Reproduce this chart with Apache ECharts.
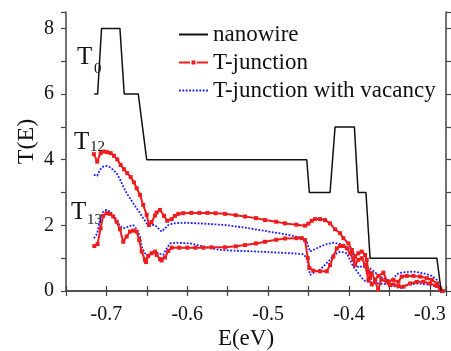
<!DOCTYPE html>
<html><head><meta charset="utf-8">
<script src="https://cdn.jsdelivr.net/npm/echarts@6/dist/echarts.min.js"></script>
<style>html,body{margin:0;padding:0;background:#fff}#c{width:451px;height:351px}</style>
</head><body><div id="c"></div>
<script>
const seriesNames = ['nanowire', 'T-junction', 'T-junction with vacancy'];
const nanowire = [[-0.7151,6],[-0.7109,6],[-0.7060,8],[-0.6833,8],[-0.6780,6],[-0.6606,6],[-0.6502,4],[-0.4522,4],[-0.4490,3],[-0.4234,3],[-0.4172,5],[-0.3933,5],[-0.3887,3],[-0.3790,3],[-0.3739,1],[-0.2913,1],[-0.2860,0]];
const tjunctionT12 = [[-0.7155,4.17],[-0.7114,3.94],[-0.7072,4.20],[-0.7031,4.25],[-0.6990,4.23],[-0.6948,4.20],[-0.6907,4.12],[-0.6866,4.01],[-0.6824,3.84],[-0.6783,3.71],[-0.6743,3.59],[-0.6700,3.47],[-0.6660,3.31],[-0.6626,3.13],[-0.6585,2.93],[-0.6545,2.62],[-0.6502,2.32],[-0.6474,2.01],[-0.6441,2.10],[-0.6400,2.30],[-0.6379,2.39],[-0.6338,2.47],[-0.6288,2.29],[-0.6248,2.14],[-0.6193,2.19],[-0.6152,2.29],[-0.6111,2.35],[-0.6050,2.37],[-0.5950,2.38],[-0.5850,2.38],[-0.5750,2.38],[-0.5650,2.37],[-0.5533,2.35],[-0.5400,2.31],[-0.5286,2.27],[-0.5150,2.22],[-0.5038,2.16],[-0.4900,2.11],[-0.4791,2.06],[-0.4650,2.02],[-0.4543,1.99],[-0.4502,2.05],[-0.4460,2.14],[-0.4420,2.19],[-0.4358,2.19],[-0.4296,2.16],[-0.4234,2.06],[-0.4172,1.88],[-0.4110,1.76],[-0.4069,1.61],[-0.4007,1.45],[-0.3965,1.25],[-0.3925,1.05],[-0.3884,1.15],[-0.3842,1.20],[-0.3801,1.10],[-0.3780,0.95],[-0.3760,0.60],[-0.3739,0.40],[-0.3718,0.54],[-0.3677,0.34],[-0.3636,0.46],[-0.3574,0.56],[-0.3532,0.30],[-0.3450,0.34],[-0.3389,0.28],[-0.3347,0.44],[-0.3285,0.46],[-0.3203,0.46],[-0.3120,0.44],[-0.3037,0.39],[-0.2975,0.34],[-0.2913,0.23],[-0.2872,0.08],[-0.2850,0.00]];
const tjunctionT13 = [[-0.7150,1.37],[-0.7110,1.43],[-0.7072,1.91],[-0.7040,2.29],[-0.6998,2.37],[-0.6957,2.35],[-0.6916,2.27],[-0.6874,2.11],[-0.6833,1.88],[-0.6792,1.50],[-0.6750,1.66],[-0.6709,1.81],[-0.6668,1.84],[-0.6626,1.81],[-0.6594,1.55],[-0.6564,1.20],[-0.6524,0.95],[-0.6510,0.88],[-0.6483,1.07],[-0.6441,1.15],[-0.6400,1.20],[-0.6379,1.10],[-0.6338,0.97],[-0.6317,0.93],[-0.6276,1.02],[-0.6235,1.22],[-0.6193,1.32],[-0.6100,1.32],[-0.6000,1.32],[-0.5900,1.32],[-0.5800,1.32],[-0.5700,1.33],[-0.5533,1.33],[-0.5400,1.36],[-0.5286,1.40],[-0.5150,1.45],[-0.5038,1.50],[-0.4900,1.56],[-0.4791,1.60],[-0.4650,1.61],[-0.4584,1.61],[-0.4543,1.55],[-0.4510,1.00],[-0.4490,0.70],[-0.4441,0.62],[-0.4358,0.60],[-0.4275,0.60],[-0.4234,0.79],[-0.4193,1.05],[-0.4151,1.30],[-0.4110,1.37],[-0.4069,1.37],[-0.4027,1.30],[-0.3986,1.15],[-0.3946,0.95],[-0.3925,0.79],[-0.3884,0.95],[-0.3842,1.00],[-0.3801,0.80],[-0.3760,0.35],[-0.3718,0.20],[-0.3677,0.30],[-0.3640,0.03],[-0.3600,0.35],[-0.3512,0.25],[-0.3491,0.18],[-0.3450,0.20],[-0.3389,0.15],[-0.3327,0.13],[-0.3244,0.23],[-0.3161,0.28],[-0.3079,0.28],[-0.2996,0.23],[-0.2913,0.15],[-0.2872,0.05],[-0.2840,0.00]];
const vacancyT12 = [[-0.7155,3.54],[-0.7114,3.51],[-0.7080,3.69],[-0.7040,3.79],[-0.6998,3.81],[-0.6957,3.77],[-0.6916,3.69],[-0.6874,3.59],[-0.6833,3.41],[-0.6792,3.18],[-0.6750,2.98],[-0.6709,2.83],[-0.6668,2.67],[-0.6626,2.52],[-0.6585,2.37],[-0.6545,2.22],[-0.6502,2.06],[-0.6462,2.01],[-0.6400,2.01],[-0.6359,1.91],[-0.6317,1.81],[-0.6276,1.91],[-0.6235,2.01],[-0.6173,2.06],[-0.6050,2.08],[-0.5843,2.06],[-0.5533,2.01],[-0.5286,1.93],[-0.5038,1.83],[-0.4791,1.73],[-0.4564,1.61],[-0.4522,1.50],[-0.4481,1.20],[-0.4441,1.25],[-0.4358,1.35],[-0.4275,1.43],[-0.4193,1.47],[-0.4131,1.45],[-0.4069,1.40],[-0.4007,1.30],[-0.3965,1.15],[-0.3925,0.89],[-0.3884,0.72],[-0.3842,0.75],[-0.3801,0.72],[-0.3739,0.69],[-0.3615,0.44],[-0.3532,0.34],[-0.3491,0.30],[-0.3389,0.54],[-0.3327,0.57],[-0.3203,0.59],[-0.3079,0.54],[-0.2975,0.46],[-0.2913,0.34],[-0.2872,0.13],[-0.2850,0.00]];
const vacancyT13 = [[-0.7155,1.61],[-0.7114,1.75],[-0.7080,2.16],[-0.7040,2.42],[-0.6998,2.47],[-0.6957,2.42],[-0.6916,2.32],[-0.6874,2.16],[-0.6833,1.98],[-0.6792,1.91],[-0.6750,1.94],[-0.6709,1.98],[-0.6668,2.01],[-0.6626,1.88],[-0.6585,1.66],[-0.6564,1.35],[-0.6524,1.15],[-0.6483,1.10],[-0.6441,1.15],[-0.6400,1.20],[-0.6359,1.15],[-0.6297,1.10],[-0.6255,1.30],[-0.6214,1.45],[-0.6131,1.47],[-0.5967,1.45],[-0.5802,1.36],[-0.5636,1.27],[-0.5533,1.24],[-0.5121,1.20],[-0.4708,1.15],[-0.4564,1.12],[-0.4522,1.00],[-0.4481,0.49],[-0.4441,0.55],[-0.4358,0.65],[-0.4234,0.95],[-0.4193,1.10],[-0.4110,1.20],[-0.4027,1.15],[-0.3946,0.74],[-0.3884,0.54],[-0.3842,0.40],[-0.3800,0.30],[-0.3700,0.25],[-0.3600,0.22],[-0.3491,0.20],[-0.3368,0.08],[-0.3285,0.18],[-0.3161,0.23],[-0.3037,0.20],[-0.2913,0.13],[-0.2851,0.03]];
const xRange = [-0.75, -0.28];
const yRange = [0, 8.5];
const curveLabels = [['T', '0'], ['T', '12'], ['T', '13']];

const serif = '"Liberation Serif", "DejaVu Serif", serif';
const axisCol = '#444';
const red = '#ee1c1c', blue = '#1a1aff', black = '#111';
const chart = echarts.init(document.getElementById('c'), null, {renderer: 'canvas'});
const redStyle = {type: 'line', name: seriesNames[1], symbol: 'rect', symbolSize: 4, showSymbol: true,
  itemStyle: {color: red}, lineStyle: {color: red, width: 2}, animation: false, z: 3};
const blueStyle = {type: 'line', name: seriesNames[2], symbol: 'none',
  itemStyle: {color: blue}, lineStyle: {color: blue, width: 1.8, type: [1.8, 1.6]}, animation: false, z: 2};
const labelPos = [[77, 45, 94, 62], [74, 130, 90, 140], [71, 200, 87, 213]];
const graphics = [];
curveLabels.forEach((l, i) => {
  const p = labelPos[i];
  graphics.push({type: 'text', left: p[0], top: p[1], style: {text: l[0], fontSize: 25, fontFamily: serif, fill: black}});
  graphics.push({type: 'text', left: p[2], top: p[3], style: {text: l[1], fontSize: 15, fontFamily: serif, fill: black}});
});
const xFmt = v => { const r = Math.round(v * 100); return (r % 10 === 0) ? (r / 100).toFixed(1) : ''; };
const yFmt = v => (Math.abs(v % 2) < 1e-9 ? String(v) : '');
const baseAxisLine = {show: true, lineStyle: {color: axisCol, width: 1.5}};
const baseTick = {show: true, inside: false, length: 5, lineStyle: {color: axisCol, width: 1.2}};
const clear = {color: 'rgba(0,0,0,0)', borderWidth: 0};
chart.setOption({
  backgroundColor: '#fff',
  animation: false,
  grid: {left: 66, top: 12, right: 5, bottom: 60, containLabel: false, outerBoundsMode: 'none'},
  legend: {
    orient: 'vertical', left: 173, top: 18, itemGap: 5, itemWidth: 29, itemHeight: 5,
    data: [
      {name: seriesNames[0], itemStyle: clear},
      {name: seriesNames[1], lineStyle: {type: [11, 7]}},
      {name: seriesNames[2], itemStyle: clear}
    ],
    textStyle: {fontFamily: serif, fontSize: 23, color: black}
  },
  xAxis: [{
    type: 'value', min: xRange[0], max: xRange[1], interval: 0.05,
    name: 'E(eV)', nameLocation: 'middle', nameGap: 36, nameMoveOverlap: false,
    nameTextStyle: {fontFamily: serif, fontSize: 23, color: black, padding: [0, 20, 0, 0]},
    axisLine: baseAxisLine, axisTick: baseTick, splitLine: {show: false},
    axisLabel: {formatter: xFmt, fontFamily: serif, fontSize: 20, color: black, margin: 14}
  }, {
    type: 'value', position: 'top', min: xRange[0], max: xRange[1], interval: 0.05,
    axisLine: baseAxisLine, axisTick: baseTick, splitLine: {show: false}, axisLabel: {show: false}
  }],
  yAxis: [{
    type: 'value', min: yRange[0], max: yRange[1], interval: 1,
    name: 'T(E)', nameLocation: 'middle', nameGap: 27, nameRotate: 90, nameMoveOverlap: false,
    nameTextStyle: {fontFamily: serif, fontSize: 24, color: black, padding: [0, 0, 0, 20]},
    axisLine: baseAxisLine, axisTick: baseTick, splitLine: {show: false},
    axisLabel: {formatter: yFmt, fontFamily: serif, fontSize: 20, color: black, margin: 12}
  }, {
    type: 'value', position: 'right', min: yRange[0], max: yRange[1], interval: 1,
    axisLine: baseAxisLine, axisTick: baseTick, splitLine: {show: false}, axisLabel: {show: false}
  }],
  graphic: graphics,
  series: [
    {type: 'line', name: seriesNames[0], data: nanowire, symbol: 'none', itemStyle: {color: black},
     lineStyle: {color: black, width: 1.5}, animation: false, z: 4},
    Object.assign({}, redStyle, {data: tjunctionT12}),
    Object.assign({}, redStyle, {data: tjunctionT13}),
    Object.assign({}, blueStyle, {data: vacancyT12}),
    Object.assign({}, blueStyle, {data: vacancyT13})
  ]
});
</script></body></html>
